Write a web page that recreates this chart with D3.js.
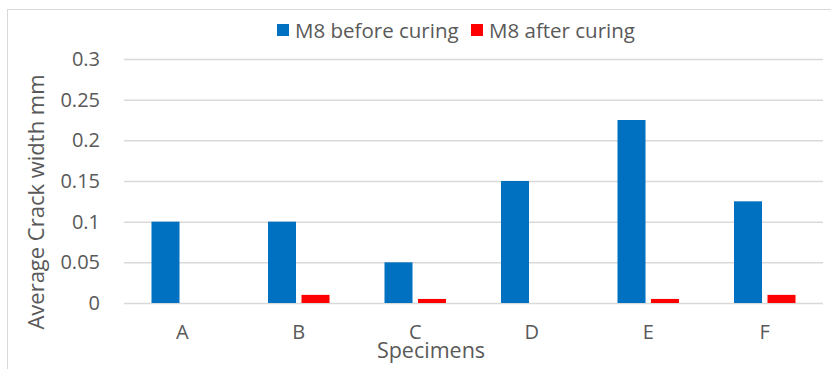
<!DOCTYPE html>
<html><head><meta charset="utf-8">
<script src="https://cdn.jsdelivr.net/npm/d3@7"></script>
<style>body{margin:0;background:#fff}svg{display:block}text{font-family:"Open Sans","Noto Sans",sans-serif;fill:#595959}</style>
</head><body><svg id="c" width="831" height="369"></svg>
<script>
const categories = ["A","B","C","D","E","F"];
const seriesNames = ["M8 before curing","M8 after curing"];
const beforeCuring = [0.1,0.1,0.05,0.15,0.225,0.125];
const afterCuring = [0,0.01,0.005,0,0.005,0.01];
const yTicks = [0,0.05,0.1,0.15,0.2,0.25,0.3];
const colors = ["#0070C0","#FF0000"];

const svg = d3.select("#c");
const W=831,H=369;
const m={left:124,right:8,top:59,bottom:66};
svg.append("rect").attr("x",7.5).attr("y",9.5).attr("width",W+10).attr("height",H+10)
  .attr("fill","none").attr("stroke","#d9d9d9").attr("stroke-width",1);

const x0=d3.scaleBand().domain(categories).range([m.left,W-m.right]).padding(0);
const x1=d3.scaleBand().domain(seriesNames).range([x0.bandwidth()*0.236,x0.bandwidth()*0.764]).paddingInner(0.164);
const y=d3.scaleLinear().domain([0,0.3]).range([H-m.bottom,m.top]);

const yAxis=d3.axisLeft(y).tickValues(yTicks).tickSize(-(W-m.right-m.left)).tickPadding(24)
  .tickFormat(d=>d3.format("")(+d.toFixed(3)));
const gy=svg.append("g").attr("transform",`translate(${m.left},0)`).call(yAxis);
gy.select(".domain").remove();
gy.selectAll("line").attr("stroke","#d9d9d9").attr("stroke-width",1.5);
gy.selectAll("text").style("font-size","20px").attr("fill","#595959");

const data=categories.map((c,i)=>({c,vals:[beforeCuring[i],afterCuring[i]]}));
const g=svg.append("g");
data.forEach(d=>{
  d.vals.forEach((v,j)=>{
    if(v<=0) return;
    g.append("rect").attr("x",x0(d.c)+x1(seriesNames[j])).attr("width",x1.bandwidth())
      .attr("y",y(v)).attr("height",y(0)-y(v)).attr("fill",colors[j]);
  });
});

const xAxis=d3.axisBottom(x0).tickSize(0).tickPadding(22);
const gx=svg.append("g").attr("transform",`translate(0,${H-m.bottom})`).call(xAxis);
gx.select(".domain").remove();
gx.selectAll("text").style("font-size","20px").attr("fill","#595959");

svg.append("text").attr("x",431).attr("y",358).attr("text-anchor","middle").style("font-size","21.5px").text("Specimens");
svg.append("text").attr("transform","translate(44,202) rotate(-90)").attr("text-anchor","middle").style("font-size","22px").text("Average Crack width mm");

const leg=svg.append("g");
const legX=[277,471];
seriesNames.forEach((s,i)=>{
  leg.append("rect").attr("x",legX[i]).attr("y",24).attr("width",12).attr("height",12).attr("fill",colors[i]);
  leg.append("text").attr("x",legX[i]+18).attr("y",37.5).style("font-size","20.5px").text(s);
});
</script></body></html>
